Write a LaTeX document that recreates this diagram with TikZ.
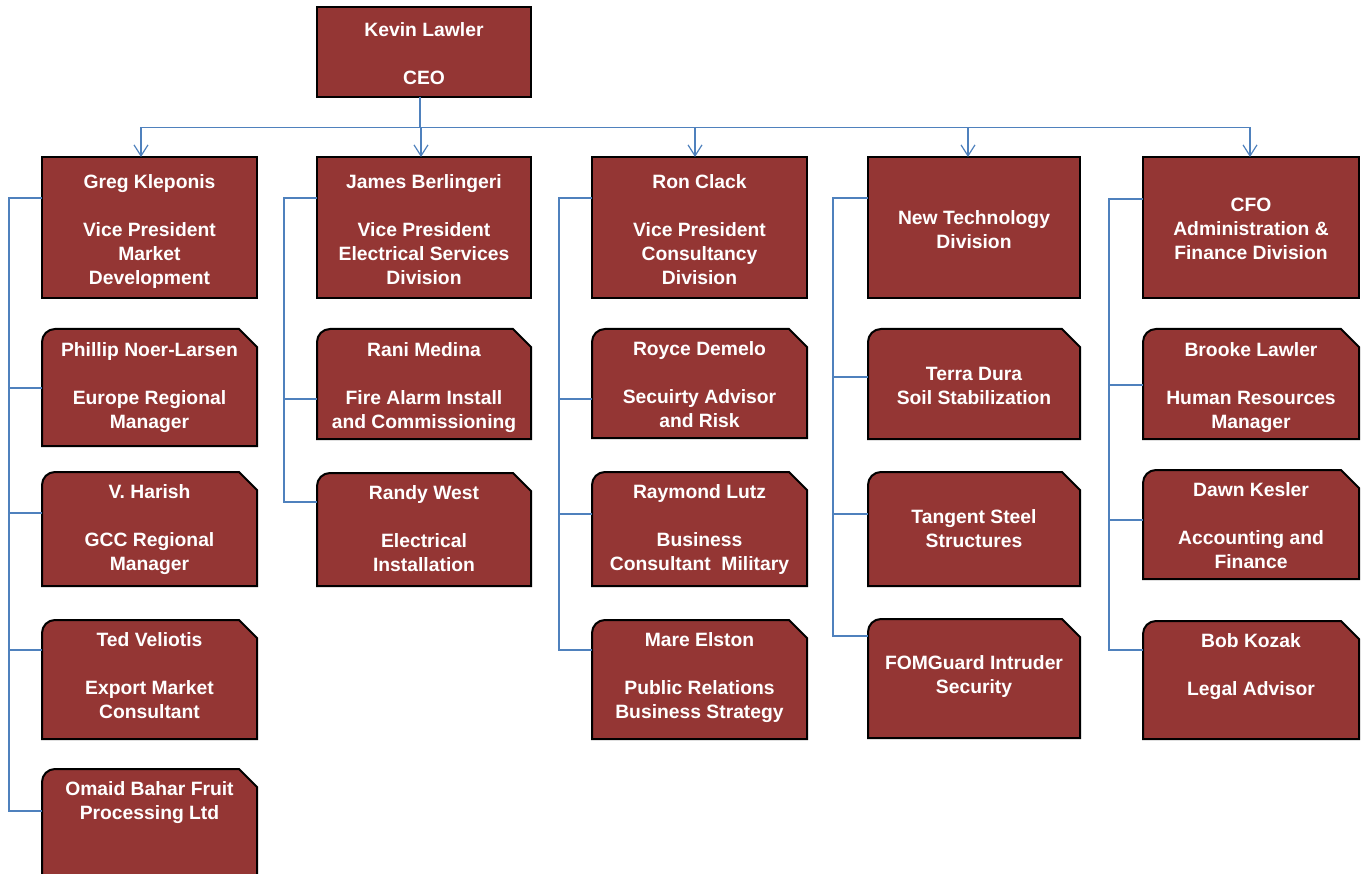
\documentclass[tikz,border=0pt]{standalone}
\usepackage{fontspec}
\setmainfont{Liberation Sans}
\usetikzlibrary{calc,arrows.meta,backgrounds}
\definecolor{boxred}{HTML}{943634}
\definecolor{linkblue}{HTML}{4F81BD}
\tikzset{
  txt/.style={inner sep=0pt, outer sep=0pt, align=center, text=white,
    font=\bfseries\fontsize{19.3}{24}\selectfont,
    execute at end node=\strut},
  boxline/.style={draw=black, line width=2pt, fill=boxred, line join=miter},
  conn/.style={draw=linkblue, line width=1.2pt},
  arr/.style={conn, -{Straight Barb[length=11pt,width=14pt]}}
}
% invisible leading row that pushes the text down inside its box
\newcommand\pre[1]{\mbox{}\\[#1pt]}
\newcommand\headshape[1]{\draw[boxline] (#1.south west) rectangle (#1.north east);}
\newcommand\subshape[1]{\draw[boxline] (#1.south west) -- ([yshift=-13pt]#1.north west)
  arc[start angle=180, end angle=90, radius=13pt] -- ([xshift=-18pt]#1.north east)
  -- ([yshift=-18pt]#1.north east) -- (#1.south east) -- cycle;}
\begin{document}
\begin{tikzpicture}[x=1pt,y=-1pt]
\useasboundingbox (0,0) rectangle (1362,874);
% CEO
\node[txt, minimum width=214pt, minimum height=90pt] (ceo) at (424,52) {\pre{0}Kevin Lawler\\[24pt]CEO};
% heads
\node[txt, minimum width=215pt, minimum height=141pt] (greg) at (149.5,227.5) {\pre{2}Greg Kleponis\\[24pt]Vice President\\Market\\Development};
\node[txt, minimum width=214pt, minimum height=141pt] (james) at (424,227.5) {\pre{2}James Berlingeri\\[24pt]Vice President\\Electrical Services\\Division};
\node[txt, minimum width=215pt, minimum height=141pt] (ron) at (699.5,227.5) {\pre{2}Ron Clack\\[24pt]Vice President\\Consultancy\\Division};
\node[txt, minimum width=212pt, minimum height=141pt] (newtech) at (974,227.5) {\pre{2}New Technology\\Division};
\node[txt, minimum width=216pt, minimum height=141pt] (cfo) at (1251,227.5) {\pre{0}CFO\\Administration \&\\Finance Division};
% column 1
\node[txt, minimum width=215pt, minimum height=117pt] (phillip) at (149.5,387.5) {\pre{-6}Phillip Noer-Larsen\\[24pt]Europe Regional\\Manager};
\node[txt, minimum width=215pt, minimum height=114pt] (harish) at (149.5,529) {\pre{-6}V. Harish\\[24pt]GCC Regional\\Manager};
\node[txt, minimum width=215pt, minimum height=119pt] (ted) at (149.5,679.5) {Ted Veliotis\\[24pt]Export Market\\Consultant};
\node[txt, minimum width=215pt, minimum height=119pt] (omaid) at (149.5,828.5) {Omaid Bahar Fruit\\Processing Ltd\\[24pt]\mbox{}};
% column 2
\node[txt, minimum width=214pt, minimum height=110pt] (rani) at (424,384) {\pre{0}Rani Medina\\[24pt]Fire Alarm Install\\and Commissioning};
\node[txt, minimum width=214pt, minimum height=113pt] (randy) at (424,529.5) {\pre{-4}Randy West\\[24pt]Electrical\\Installation};
% column 3
\node[txt, minimum width=215pt, minimum height=109pt] (royce) at (699.5,383.5) {\pre{0}Royce Demelo\\[24pt]Secuirty Advisor\\and Risk};
\node[txt, minimum width=215pt, minimum height=114pt] (raymond) at (699.5,529) {\pre{-6}Raymond Lutz\\[24pt]Business\\Consultant\ \ Military};
\node[txt, minimum width=215pt, minimum height=119pt] (mare) at (699.5,679.5) {Mare Elston\\[24pt]Public Relations\\Business Strategy};
% column 4
\node[txt, minimum width=212pt, minimum height=110pt] (terra) at (974,384) {\pre{0}Terra Dura\\Soil Stabilization};
\node[txt, minimum width=212pt, minimum height=114pt] (tangent) at (974,529) {\pre{-4}Tangent Steel\\Structures};
\node[txt, minimum width=212pt, minimum height=119pt] (fom) at (974,678.5) {FOMGuard Intruder\\Security};
% column 5
\node[txt, minimum width=216pt, minimum height=110pt] (brooke) at (1251,384) {\pre{0}Brooke Lawler\\[24pt]Human Resources\\Manager};
\node[txt, minimum width=216pt, minimum height=109pt] (dawn) at (1251,524.5) {\pre{0}Dawn Kesler\\[24pt]Accounting and\\Finance};
\node[txt, minimum width=216pt, minimum height=118pt] (bob) at (1251,680) {Bob Kozak\\[24pt]Legal Advisor\\\mbox{}};
% shapes behind text
\begin{pgfonlayer}{background}
\headshape{ceo}
\headshape{greg}\headshape{james}\headshape{ron}\headshape{newtech}\headshape{cfo}
\subshape{phillip}\subshape{harish}\subshape{ted}\subshape{omaid}
\subshape{rani}\subshape{randy}
\subshape{royce}\subshape{raymond}\subshape{mare}
\subshape{terra}\subshape{tangent}\subshape{fom}
\subshape{brooke}\subshape{dawn}\subshape{bob}
\end{pgfonlayer}
% CEO to heads
\coordinate (bus) at (420,128);
\draw[conn] ($(ceo.south)+(-4,0)$) -- (bus);
\draw[conn] ($(greg.north)+(-8.5,-29.5)$) -- ($(cfo.north)+(-1,-29.5)$);
\draw[arr] ($(greg.north)+(-8.5,-29.5)$) -- ($(greg.north)+(-8.5,0)$);
\draw[arr] ($(james.north)+(-3,-29.5)$) -- ($(james.north)+(-3,0)$);
\draw[arr] ($(ron.north)+(-4.5,-29.5)$) -- ($(ron.north)+(-4.5,0)$);
\draw[arr] ($(newtech.north)+(-6,-29.5)$) -- ($(newtech.north)+(-6,0)$);
\draw[arr] ($(cfo.north)+(-1,-29.5)$) -- ($(cfo.north)+(-1,0)$);
% column 1 spine
\draw[conn] ($(greg.west)+(0,-29.5)$) -- ++(-33,0) |- ($(omaid.west)+(0,-17.5)$);
\draw[conn] ($(phillip.west)+(-33,0.5)$) -- ($(phillip.west)+(0,0.5)$);
\draw[conn] ($(harish.west)+(-33,-16)$) -- ($(harish.west)+(0,-16)$);
\draw[conn] ($(ted.west)+(-33,-29.5)$) -- ($(ted.west)+(0,-29.5)$);
% column 2 spine
\draw[conn] ($(james.west)+(0,-29.5)$) -- ++(-33,0) |- ($(randy.west)+(0,-27.5)$);
\draw[conn] ($(rani.west)+(-33,15)$) -- ($(rani.west)+(0,15)$);
% column 3 spine
\draw[conn] ($(ron.west)+(0,-29.5)$) -- ++(-33,0) |- ($(mare.west)+(0,-29.5)$);
\draw[conn] ($(royce.west)+(-33,15.5)$) -- ($(royce.west)+(0,15.5)$);
\draw[conn] ($(raymond.west)+(-33,-15)$) -- ($(raymond.west)+(0,-15)$);
% column 4 spine
\draw[conn] ($(newtech.west)+(0,-29.5)$) -- ++(-35,0) |- ($(fom.west)+(0,-42.5)$);
\draw[conn] ($(terra.west)+(-35,-7)$) -- ($(terra.west)+(0,-7)$);
\draw[conn] ($(tangent.west)+(-35,-15)$) -- ($(tangent.west)+(0,-15)$);
% column 5 spine
\draw[conn] ($(cfo.west)+(0,-28.5)$) -- ++(-34,0) |- ($(bob.west)+(0,-30)$);
\draw[conn] ($(brooke.west)+(-34,1)$) -- ($(brooke.west)+(0,1)$);
\draw[conn] ($(dawn.west)+(-34,-4.5)$) -- ($(dawn.west)+(0,-4.5)$);
\end{tikzpicture}
\end{document}
